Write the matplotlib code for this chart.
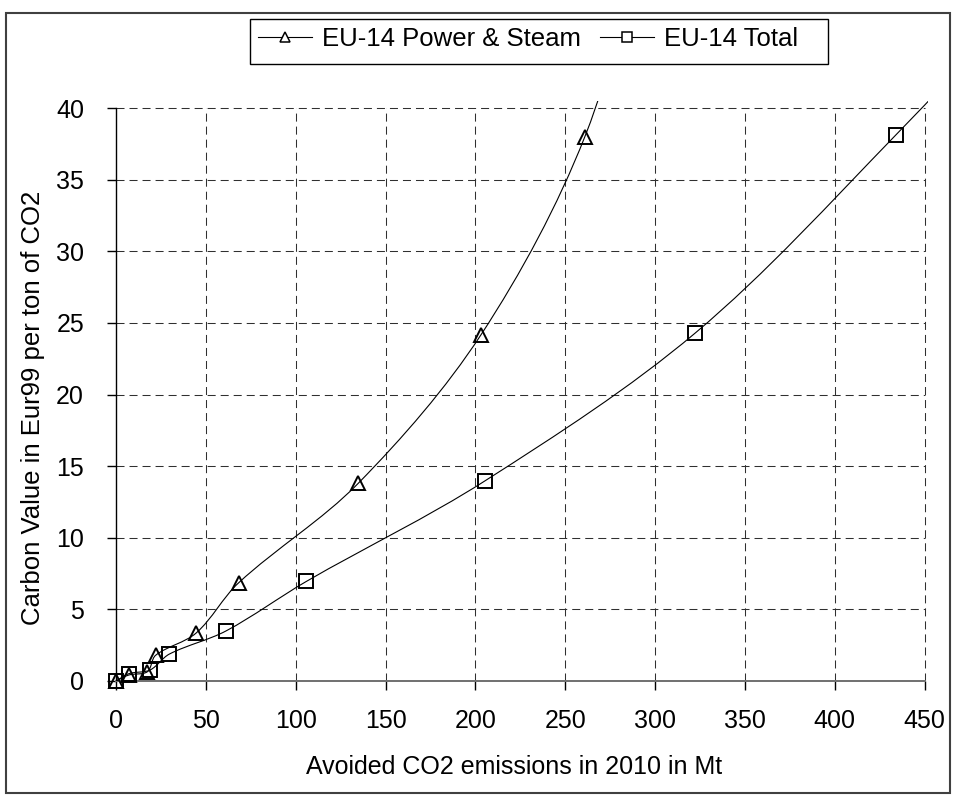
import numpy as np
import matplotlib
matplotlib.use("Agg")
import matplotlib.pyplot as plt
from matplotlib.path import Path
from matplotlib.patches import PathPatch, Rectangle
from matplotlib.lines import Line2D

plt.rcParams['font.family'] = ['Liberation Sans', 'DejaVu Sans']

# data (last row of each series is above the 40 scale,
# only the smoothed line towards it is visible)
power_x = [0, 7.2, 17.5, 22.1, 44.6, 68.2, 134.8, 203.0, 260.9, 300]
power_y = [0, 0.42, 0.65, 1.8, 3.35, 6.85, 13.8, 24.15, 38.0, 55]
total_x = [0, 7.4, 19.0, 29.7, 61.3, 105.9, 205.3, 322.2, 433.8, 560]
total_y = [0, 0.52, 0.77, 1.88, 3.5, 6.95, 13.97, 24.28, 38.1, 55]

labels = ['EU-14 Power & Steam', 'EU-14 Total']
markers = ['^', 's']
x_ticks = list(range(0, 451, 50))
y_ticks = list(range(0, 41, 5))


def smooth_path(ax, xs, ys):
    # Bezier smoothing (chord-length scaled tangents, measured on screen)
    pts = np.column_stack([xs, ys]).astype(float)
    scr = ax.transData.transform(pts)
    n = len(pts)
    d = np.hypot(*np.diff(scr, axis=0).T)
    tang = np.zeros_like(pts)
    for i in range(n):
        if i == 0:
            tang[i] = (pts[1] - pts[0]) / d[0]
        elif i == n - 1:
            tang[i] = (pts[-1] - pts[-2]) / d[-1]
        else:
            tang[i] = (pts[i + 1] - pts[i - 1]) / (d[i - 1] + d[i])
    verts = [pts[0]]
    codes = [Path.MOVETO]
    for i in range(n - 1):
        verts += [pts[i] + tang[i] * d[i] / 3, pts[i + 1] - tang[i + 1] * d[i] / 3, pts[i + 1]]
        codes += [Path.CURVE4] * 3
    return Path(verts, codes)


W, H = 954, 796
fig = plt.figure(figsize=(W / 100, H / 100), dpi=100)
x_max, y_max = 452, 40.5
px_x = (924.7 - 116) / 450
px_y = (681 - 108) / 40
ax = fig.add_axes([116 / W, (H - 681) / H, x_max * px_x / W, y_max * px_y / H])
ax.set_xlim(0, x_max)
ax.set_ylim(0, y_max)

grid_style = dict(color='#303030', linewidth=0.75, linestyle=(0, (7.7, 4.8)), zorder=1)
ax.hlines(y_ticks[1:], 0, x_ticks[-1], **grid_style)
ax.vlines(x_ticks[1:], 0, y_ticks[-1], **grid_style)

handles = []
for xs, ys, m in zip([power_x, total_x], [power_y, total_y], markers):
    ax.add_patch(PathPatch(smooth_path(ax, xs, ys), facecolor='none', edgecolor='black',
                           linewidth=0.8, zorder=3))
    xs_a, ys_a = np.array(xs), np.array(ys)
    vis = ys_a <= 40
    ms = 10.5 if m == '^' else 9.8
    ax.plot(xs_a[vis], ys_a[vis], linestyle='none', marker=m, markersize=ms,
            markerfacecolor='none', markeredgecolor='black', markeredgewidth=1.4,
            clip_on=False, zorder=4)
    handles.append(Line2D([], [], color='black', linewidth=0.8, marker=m,
                          markersize=7 if m == '^' else 6.5, markerfacecolor='white',
                          markeredgecolor='black', markeredgewidth=1.1))

for side in ['top', 'right']:
    ax.spines[side].set_visible(False)
ax.spines['left'].set_bounds(0, 40)
ax.spines['left'].set_linewidth(1.0)
ax.spines['bottom'].set_bounds(0, 450)
ax.spines['bottom'].set_color('#707070')
ax.spines['bottom'].set_linewidth(1.4)

ax.set_xticks(x_ticks)
ax.set_yticks(y_ticks)
ax.tick_params(axis='both', direction='out', length=6.5, width=1.0, color='black',
               labelsize=18)
ax.tick_params(axis='y', pad=16.5)
ax.tick_params(axis='x', pad=14)

ax.set_xlabel('Avoided CO2 emissions in 2010 in Mt', fontsize=18)
ax.set_ylabel('Carbon Value in Eur99 per ton of CO2', fontsize=18.5)
ax.xaxis.set_label_coords(0.49, -0.127)
ax.yaxis.set_label_coords(-0.0874, 0.47)

leg = fig.legend(handles, labels, loc='upper left', bbox_to_anchor=(250 / W, 1 - 19 / H),
                 ncol=2, fontsize=18.5, frameon=False, borderaxespad=0, borderpad=0.3,
                 handlelength=2.1, handletextpad=0.4, columnspacing=0.75)
# legend frame as drawn in the original (wider than its contents)
fig.add_artist(Rectangle((250 / W, 1 - 64 / H), (828 - 250) / W, 45 / H,
                         transform=fig.transFigure, fill=False, edgecolor='black',
                         linewidth=1.0))

fig.add_artist(Rectangle((6 / W, 3 / H), (950 - 6) / W, (783 - 3) / H, transform=fig.transFigure,
                         fill=False, edgecolor='#404040', linewidth=1.5))

fig.savefig('out.png', dpi=100)
